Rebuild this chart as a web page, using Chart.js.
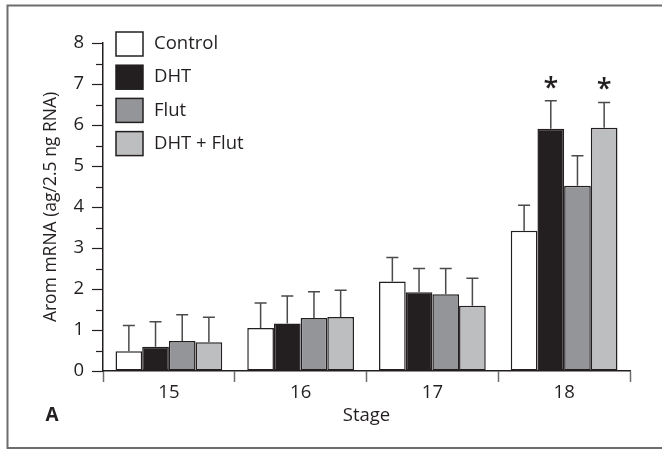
<!DOCTYPE html>
<html>
<head>
<meta charset="utf-8">
<script src="https://cdn.jsdelivr.net/npm/chart.js@4.4.1/dist/chart.umd.min.js"></script>
<style>
  html, body { margin: 0; padding: 0; background: #fff; }
  #wrap { width: 662px; height: 450px; position: relative; }
</style>
</head>
<body>
<div id="wrap"><canvas id="c"></canvas></div>
<script>
const stages = ['15', '16', '17', '18'];
const seriesNames = ['Control', 'DHT', 'Flut', 'DHT + Flut'];
const control = [0.48, 1.05, 2.18, 3.42];
const dht = [0.59, 1.16, 1.92, 5.91];
const flut = [0.73, 1.29, 1.87, 4.52];
const dhtFlut = [0.70, 1.32, 1.59, 5.93];
// standard errors (upward whiskers only)
const controlErr = [0.63, 0.61, 0.59, 0.62];
const dhtErr = [0.61, 0.67, 0.58, 0.68];
const flutErr = [0.64, 0.64, 0.63, 0.73];
const dhtFlutErr = [0.61, 0.65, 0.67, 0.62];
// significance marks: [dataset index, stage index]
const stars = [[1, 3], [3, 3]];
const yTicks = [0, 1, 2, 3, 4, 5, 6, 7, 8];

const fills = ['#ffffff', '#231f20', '#939598', '#bcbec0'];
const ink = '#231f20';
const FONT = '"Open Sans", "Noto Sans", sans-serif';

const errs = [controlErr, dhtErr, flutErr, dhtFlutErr];

const decor = {
  id: 'decor',
  beforeDraw(chart) {
    const { ctx } = chart;
    ctx.save();
    ctx.strokeStyle = '#6d6d6d';
    ctx.lineWidth = 2;
    ctx.beginPath();
    ctx.moveTo(662, 5.5);
    ctx.lineTo(7.5, 5.5);
    ctx.lineTo(7.5, 448);
    ctx.lineTo(662, 448);
    ctx.stroke();
    ctx.restore();
  },
  afterDraw(chart) {
    const { ctx, scales: { y } } = chart;
    ctx.save();
    // minor y ticks
    ctx.strokeStyle = ink;
    ctx.lineWidth = 1.2;
    for (let v = 0.5; v < 8; v += 1) {
      const py = Math.round(y.getPixelForValue(v)) + 0.5;
      ctx.beginPath();
      ctx.moveTo(96, py);
      ctx.lineTo(y.right, py);
      ctx.stroke();
    }
    // error bars
    chart.data.datasets.forEach((ds, i) => {
      const meta = chart.getDatasetMeta(i);
      meta.data.forEach((bar, j) => {
        const top = y.getPixelForValue(ds.data[j] + errs[i][j]);
        ctx.strokeStyle = '#4a4a4a';
        ctx.lineWidth = 1.5;
        ctx.beginPath();
        ctx.moveTo(bar.x, bar.y);
        ctx.lineTo(bar.x, top);
        ctx.moveTo(bar.x - 6, top);
        ctx.lineTo(bar.x + 6, top);
        ctx.stroke();
      });
    });
    // asterisks
    ctx.fillStyle = ink;
    ctx.font = '600 27px ' + FONT;
    ctx.textAlign = 'center';
    ctx.textBaseline = 'alphabetic';
    stars.forEach(([i, j]) => {
      const bar = chart.getDatasetMeta(i).data[j];
      const top = y.getPixelForValue(chart.data.datasets[i].data[j] + errs[i][j]);
      ctx.fillText('*', bar.x, top - 4);
    });
    // legend
    ctx.font = '18.5px ' + FONT;
    ctx.textAlign = 'left';
    ctx.textBaseline = 'middle';
    seriesNames.forEach((name, i) => {
      const cy = 44 + i * 33.2;
      ctx.fillStyle = fills[i];
      ctx.fillRect(116, cy - 12, 27, 24);
      ctx.strokeStyle = ink;
      ctx.lineWidth = 1.5;
      ctx.strokeRect(116, cy - 12, 27, 24);
      ctx.fillStyle = ink;
      ctx.fillText(name, 154, cy);
    });
    // panel letter
    ctx.font = 'bold 19px ' + FONT;
    ctx.textAlign = 'center';
    ctx.fillText('A', 52, 416);
    ctx.restore();
  }
};

new Chart(document.getElementById('c'), {
  type: 'bar',
  data: {
    labels: stages,
    datasets: [control, dht, flut, dhtFlut].map((d, i) => ({
      label: seriesNames[i],
      data: d,
      backgroundColor: fills[i],
      borderColor: ink,
      borderWidth: 1.5,
      borderSkipped: false,
      categoryPercentage: 0.81,
      barPercentage: 1.0
    }))
  },
  options: {
    responsive: true,
    maintainAspectRatio: false,
    animation: false,
    devicePixelRatio: 1,
    layout: { padding: { top: 43, right: 32, bottom: 0, left: 0 } },
    plugins: { legend: { display: false }, tooltip: { enabled: false } },
    scales: {
      x: {
        afterFit: (s) => { s.height = 79; },
        grid: { offset: true, drawOnChartArea: false, tickLength: 11, tickColor: '#6d6d6d', tickWidth: 1.5 },
        border: { color: ink, width: 1.5 },
        ticks: { color: ink, padding: 0, font: { family: FONT, size: 18.5 } },
        title: { display: true, text: 'Stage', color: ink, padding: { top: 0, bottom: 23 }, font: { family: FONT, size: 18.5 } }
      },
      y: {
        min: 0,
        max: 8,
        afterFit: (s) => { s.width = 103; },
        afterBuildTicks: (s) => { s.ticks = yTicks.map((v) => ({ value: v })); },
        grid: { drawOnChartArea: false, tickLength: 11, tickColor: ink, tickWidth: 1.2 },
        border: { color: ink, width: 1.5 },
        ticks: { color: ink, padding: 8, font: { family: FONT, size: 18.5 } },
        title: { display: true, text: 'Arom mRNA (ag/2.5 ng RNA)', color: ink, padding: { top: 41, bottom: 0 }, font: { family: FONT, size: 17.5 } }
      }
    }
  },
  plugins: [decor]
});
</script>
</body>
</html>
